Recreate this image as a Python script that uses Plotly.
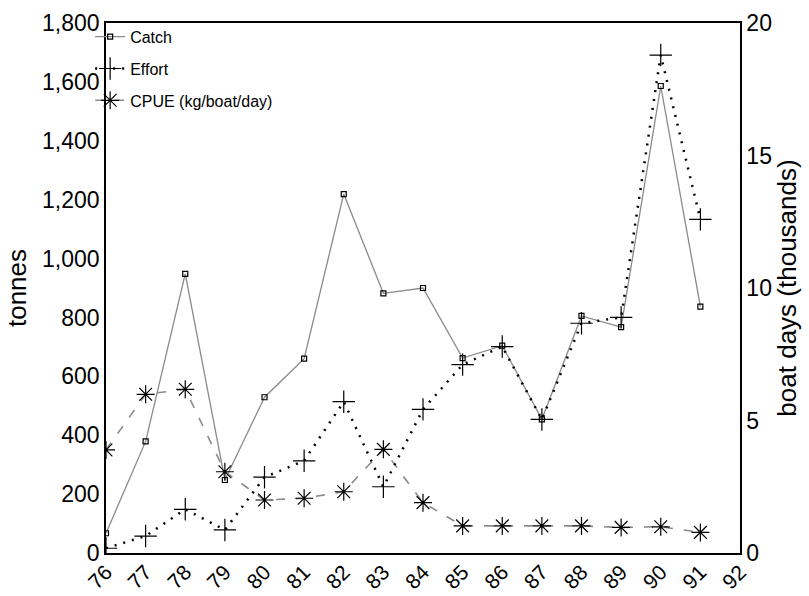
import plotly.graph_objects as go

years = [76, 77, 78, 79, 80, 81, 82, 83, 84, 85, 86, 87, 88, 89, 90, 91]
catch_t = [67, 379, 948, 248, 529, 660, 1219, 882, 900, 662, 704, 454, 805, 767, 1586, 837]
effort_k = [0.18, 0.64, 1.65, 0.87, 2.86, 3.48, 5.71, 2.50, 5.42, 7.11, 7.79, 5.04, 8.67, 8.89, 18.79, 12.59]
cpue = [350, 539, 556, 276, 180, 186, 208, 352, 171, 92, 92, 92, 92, 87, 89, 70]

x_ticks = list(range(76, 93))
y_ticks = [0, 200, 400, 600, 800, 1000, 1200, 1400, 1600, 1800]
y2_ticks = [0, 5, 10, 15, 20]

FONT = "Liberation Sans, Arial, sans-serif"

fig = go.Figure()
fig.add_trace(go.Scatter(
    x=years, y=catch_t, name="Catch", mode="lines+markers", legendgroup="a",
    line=dict(color="#8a8a8a", width=1.3),
    marker=dict(symbol="square-open", size=5, color="black", line=dict(width=1.2, color="black")),
))
fig.add_trace(go.Scatter(
    x=years, y=effort_k, name="Effort", mode="lines+markers", yaxis="y2", legendgroup="b",
    line=dict(color="black", width=2.5, dash="2px,7px"),
    marker=dict(symbol="cross-thin", size=16, color="black", line=dict(width=1.2, color="black")),
))
fig.add_trace(go.Scatter(
    x=years, y=cpue, name="CPUE (kg/boat/day)", mode="lines+markers", legendgroup="c",
    line=dict(color="#8a8a8a", width=1.6, dash="9px,11px"),
    marker=dict(symbol="asterisk", size=15, color="black", line=dict(width=1.2, color="black")),
))

fig.update_layout(
    width=809, height=596,
    margin=dict(l=106, r=69, t=23, b=43),
    plot_bgcolor="white", paper_bgcolor="white",
    font=dict(family=FONT, color="black"),
    showlegend=True,
    legend=dict(x=-0.025, y=1.006, xanchor="left", yanchor="top", bgcolor="rgba(0,0,0,0)",
                font=dict(size=16, family=FONT), itemwidth=30, tracegroupgap=8),
    xaxis=dict(range=[76, 92], tickvals=x_ticks, ticktext=[str(v) for v in x_ticks],
               tickangle=-45, tickfont=dict(size=21), showgrid=False, zeroline=False,
               showline=True, linecolor="black", linewidth=1.5, mirror=True, ticks="",
               ticklabelstandoff=-3, automargin=False),
    yaxis=dict(range=[0, 1800], tickvals=y_ticks, tickformat=",", tickfont=dict(size=23),
               title=dict(text="tonnes", font=dict(size=26), standoff=8),
               showgrid=False, zeroline=False, showline=True, linecolor="black", linewidth=1.5, ticks="",
               automargin=False),
    yaxis2=dict(range=[0, 20], tickvals=y2_ticks, overlaying="y", side="right",
                tickfont=dict(size=23),
                title=dict(text="boat days (thousands)", font=dict(size=26), standoff=6),
                showgrid=False, zeroline=False, showline=True, linecolor="black", linewidth=1.5, ticks="",
                automargin=False),
)

fig.write_html("out.html", config={"displayModeBar": False},
               post_script="document.body.style.margin='0';document.body.style.padding='0';")
